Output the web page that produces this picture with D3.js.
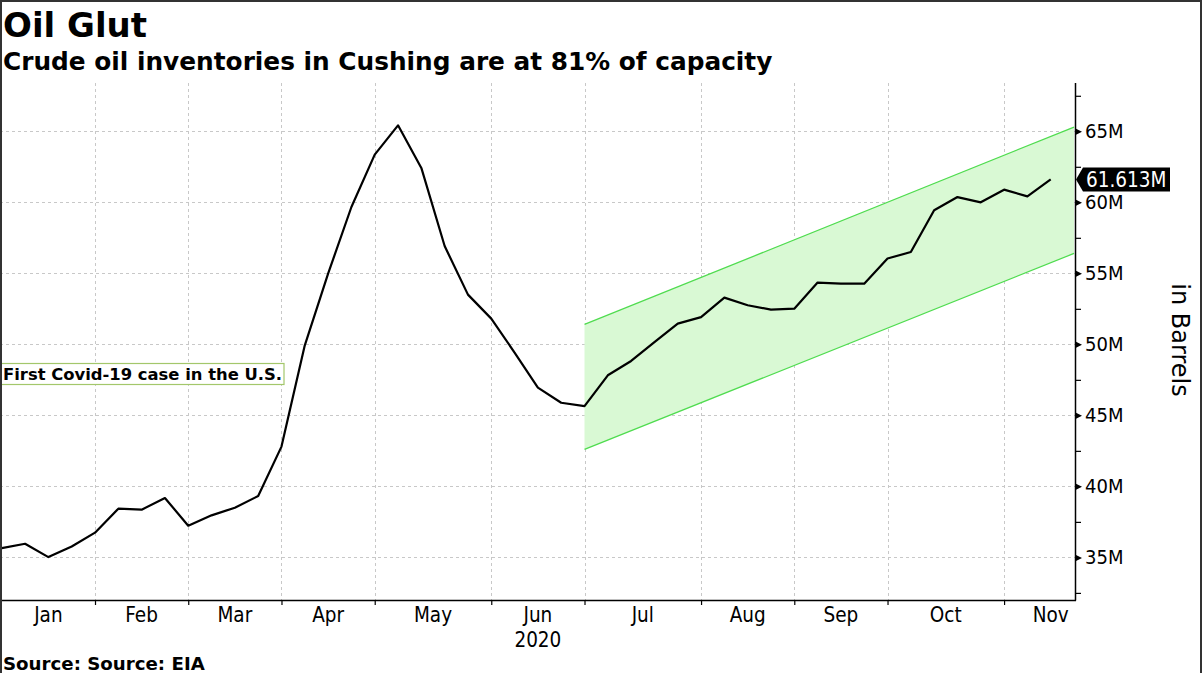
<!DOCTYPE html>
<html>
<head>
<meta charset="utf-8">
<script src="https://cdn.jsdelivr.net/npm/d3@7"></script>
<style>
  body { margin: 0; background: #fff; }
  svg { display: block; }
  .cond { font-family: "DejaVu Sans Condensed", "DejaVu Sans", sans-serif; font-stretch: condensed; }
</style>
</head>
<body>
<div id="chart"></div>
<script>
// weekly Cushing stocks (Friday week-ending dates), million barrels
var weekDates = [
  "2020-01-10", "2020-01-17", "2020-01-24", "2020-01-31",
  "2020-02-07", "2020-02-14", "2020-02-21", "2020-02-28",
  "2020-03-06", "2020-03-13", "2020-03-20", "2020-03-27",
  "2020-04-03", "2020-04-10", "2020-04-17", "2020-04-24",
  "2020-05-01", "2020-05-08", "2020-05-15", "2020-05-22", "2020-05-29",
  "2020-06-05", "2020-06-12", "2020-06-19", "2020-06-26",
  "2020-07-03", "2020-07-10", "2020-07-17", "2020-07-24", "2020-07-31",
  "2020-08-07", "2020-08-14", "2020-08-21", "2020-08-28",
  "2020-09-04", "2020-09-11", "2020-09-18", "2020-09-25",
  "2020-10-02", "2020-10-09", "2020-10-16", "2020-10-23", "2020-10-30",
  "2020-11-06", "2020-11-13", "2020-11-20"
];
var stocks = [
  35.65, 35.96, 35.02, 35.77,
  36.74, 38.43, 38.36, 39.18,
  37.23, 37.96, 38.50, 39.32,
  42.80, 49.93, 54.98, 59.67,
  63.36, 65.42, 62.42, 56.92, 53.50,
  51.81, 49.42, 46.95, 45.89,
  45.65, 47.82, 48.83, 50.16, 51.46,
  51.92, 53.29, 52.75, 52.44,
  52.51, 54.35, 54.27, 54.27,
  56.04, 56.50, 59.44, 60.37, 60.00,
  60.89, 60.42, 61.613
];
var lastLabel = "61.613M";

// trend channel
var channelDates = ["2020-07-03", "2020-11-27"];
var channelUpper = [51.4, 65.3];
var channelLower = [42.6, 56.4];

var monthNames = ["Jan", "Feb", "Mar", "Apr", "May", "Jun", "Jul", "Aug", "Sep", "Oct", "Nov"];
var yearLabel = "2020";
var yMajor = [35, 40, 45, 50, 55, 60, 65];
var yMinor = [32.5, 37.5, 42.5, 47.5, 52.5, 57.5, 62.5, 67.5];

var titleText = "Oil Glut";
var subtitleText = "Crude oil inventories in Cushing are at 81% of capacity";
var sourceText = "Source: Source: EIA";
var noteText = "First Covid-19 case in the U.S.";
var axisTitle = "in Barrels";

var W = 1202, H = 673;
var parse = d3.timeParse("%Y-%m-%d");
var d0 = parse(weekDates[0]);
function idx(d) { return Math.round((d - d0) / (7 * 864e5)); }

var plotL = 1.77, plotR = 1075, plotT = 83, plotB = 600;

var svg = d3.select("#chart").append("svg")
  .attr("width", W).attr("height", H)
  .style("font-family", "'DejaVu Sans', sans-serif");

// x: one step per weekly observation
var x = d3.scaleLinear().domain([0, 46]).range([plotL, 1074]);
var y = d3.scaleLinear().domain([32, 68.4]).range([plotB, plotT]);

// month starts = first Friday of each month
var monthIdx = d3.range(0, 12).map(function(m) {
  return Math.max(0, idx(d3.timeFriday.ceil(new Date(2020, m, 1))));
});

// grid
var grid = svg.append("g").attr("stroke", "#c8c8c8").attr("stroke-dasharray", "3,3").attr("stroke-width", 1);
grid.selectAll("line.h").data(yMajor).enter().append("line")
  .attr("x1", 0).attr("x2", plotR)
  .attr("y1", function(d) { return Math.round(y(d)) + 0.5; })
  .attr("y2", function(d) { return Math.round(y(d)) + 0.5; });
grid.selectAll("line.v").data(monthIdx.slice(1, 11)).enter().append("line")
  .attr("y1", plotT).attr("y2", plotB)
  .attr("x1", function(d) { return Math.round(x(d)) + 0.5; })
  .attr("x2", function(d) { return Math.round(x(d)) + 0.5; });

// channel
var ch = channelDates.map(function(d, i) {
  return { i: idx(parse(d)), up: channelUpper[i], lo: channelLower[i] };
});
svg.append("path").datum(ch)
  .attr("fill", "#d9f9d4")
  .attr("d", d3.area().x(function(d) { return x(d.i); })
    .y0(function(d) { return y(d.lo); }).y1(function(d) { return y(d.up); }));
["up", "lo"].forEach(function(k) {
  svg.append("path").datum(ch)
    .attr("fill", "none").attr("stroke", "#4fdc4f").attr("stroke-width", 1.3)
    .attr("d", d3.line().x(function(d) { return x(d.i); }).y(function(d) { return y(d[k]); }));
});

// main line
var series = weekDates.map(function(d, i) { return { i: idx(parse(d)), v: stocks[i] }; });
svg.append("path").datum(series)
  .attr("fill", "none").attr("stroke", "#000").attr("stroke-width", 2.2)
  .attr("stroke-linejoin", "round")
  .attr("d", d3.line().x(function(d) { return x(d.i); }).y(function(d) { return y(d.v); }));

// right axis
var yAxis = svg.append("g").attr("transform", "translate(" + plotR + ",0)")
  .attr("class", "cond")
  .call(d3.axisRight(y).tickValues(yMajor).tickSize(0).tickPadding(10)
    .tickFormat(function(d) { return d + "M"; }));
yAxis.select(".domain").remove();
yAxis.selectAll("text").attr("font-size", 20).attr("fill", "#000")
  .attr("font-family", "'DejaVu Sans Condensed', 'DejaVu Sans', sans-serif");
yAxis.selectAll(".tick").append("path").attr("d", "M0,-3.5L7,0L0,3.5Z").attr("fill", "#000");

var yMinorAxis = svg.append("g").attr("transform", "translate(" + plotR + ",0)")
  .call(d3.axisRight(y).tickValues(yMinor).tickSize(6).tickFormat(""));
yMinorAxis.select(".domain").remove();
yMinorAxis.selectAll("line").attr("stroke", "#000").attr("stroke-width", 1.2);

svg.append("line").attr("x1", plotR + 0.5).attr("x2", plotR + 0.5)
  .attr("y1", plotT).attr("y2", plotB + 0.5).attr("stroke", "#000").attr("stroke-width", 1.5);

// bottom axis
var xAxis = svg.append("g").attr("transform", "translate(0," + plotB + ")")
  .call(d3.axisBottom(x).tickValues(monthIdx.slice(1, 11)).tickSize(5).tickFormat(""));
xAxis.select(".domain").remove();
xAxis.selectAll("line").attr("stroke", "#000").attr("stroke-width", 1.2);
svg.append("line").attr("x1", 0).attr("x2", plotR + 1)
  .attr("y1", plotB + 0.5).attr("y2", plotB + 0.5).attr("stroke", "#000").attr("stroke-width", 1.5);

var monthPos = monthNames.map(function(m, k) { return (x(monthIdx[k]) + x(monthIdx[k + 1])) / 2; });
svg.append("g").attr("class", "cond").selectAll("text").data(monthNames).enter().append("text")
  .attr("x", function(d, k) { return monthPos[k]; })
  .attr("y", 622).attr("text-anchor", "middle").attr("font-size", 20.5)
  .text(function(d) { return d; });
svg.append("text").attr("class", "cond")
  .attr("x", monthPos[5]).attr("y", 647).attr("text-anchor", "middle").attr("font-size", 20.5)
  .text(yearLabel);

// last value tag
var ly = y(stocks[stocks.length - 1]);
svg.append("path")
  .attr("d", "M" + (plotR + 1) + "," + ly + "L" + (plotR + 8) + "," + (ly - 12) + "H1170V" + (ly + 12) + "H" + (plotR + 8) + "Z")
  .attr("fill", "#000");
svg.append("text").attr("class", "cond")
  .attr("x", 1086).attr("y", ly).attr("dy", "0.36em").attr("font-size", 20.5).attr("fill", "#fff")
  .text(lastLabel);

// axis title
svg.append("text")
  .attr("transform", "translate(1172,340) rotate(90)")
  .attr("text-anchor", "middle").attr("font-size", 24)
  .text(axisTitle);

// annotation
svg.append("rect").attr("x", 1).attr("y", 363.5).attr("width", 283).attr("height", 21)
  .attr("fill", "#fff").attr("stroke", "#a3c76b").attr("stroke-width", 1.2);
svg.append("text").attr("x", 3).attr("y", 380).attr("font-size", 16.4).attr("font-weight", "bold")
  .text(noteText);

// titles
svg.append("text").attr("x", 3).attr("y", 37).attr("font-size", 34).attr("font-weight", "bold").text(titleText);
svg.append("text").attr("x", 3).attr("y", 70).attr("font-size", 24.8).attr("font-weight", "bold").text(subtitleText);
svg.append("text").attr("x", 3).attr("y", 670).attr("font-size", 18.2).attr("font-weight", "bold").text(sourceText);

// frame: top, left and right edges only
svg.append("path")
  .attr("d", "M1," + H + "V1H" + (W - 1) + "V" + H)
  .attr("fill", "none").attr("stroke", "#333").attr("stroke-width", 2);
</script>
</body>
</html>
